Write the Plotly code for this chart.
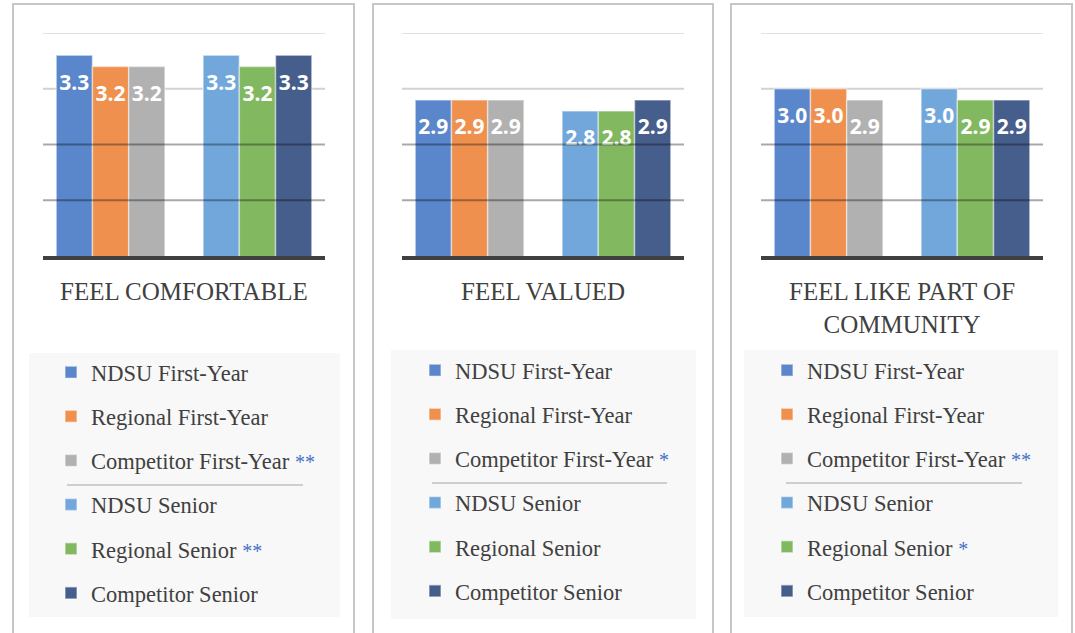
import plotly.graph_objects as go

# ---------------- data ----------------
GROUPS = ["First-Year", "Senior"]
SCHOOLS = ["NDSU", "Regional", "Competitor"]
SERIES = ["NDSU First-Year", "Regional First-Year", "Competitor First-Year",
          "NDSU Senior", "Regional Senior", "Competitor Senior"]
PANEL_TITLES = ["FEEL COMFORTABLE", "FEEL VALUED", "FEEL LIKE PART OF<br>COMMUNITY"]

comfortable_first_year = [3.3, 3.2, 3.2]
comfortable_senior = [3.3, 3.2, 3.3]
valued_first_year = [2.9, 2.9, 2.9]
valued_senior = [2.8, 2.8, 2.9]
community_first_year = [3.0, 3.0, 2.9]
community_senior = [3.0, 2.9, 2.9]

comfortable_marks = ["", "", "**", "", "**", ""]
valued_marks = ["", "", "*", "", "", ""]
community_marks = ["", "", "**", "", "*", ""]

Y_RANGE = [1.5, 3.5]
GRID_VALUES = [2.0, 2.5, 3.0, 3.5]

# ---------------- style ----------------
W, H = 1075, 633
COLORS = ["#5A86CB", "#F0904F", "#B1B1B1", "#72A7DB", "#82B860", "#465E8C"]
STAR_COLOR = "#4472C4"
TEXT_COLOR = "#404040"
SERIF = "Liberation Serif"

panels = [
    (comfortable_first_year, comfortable_senior, comfortable_marks),
    (valued_first_year, valued_senior, valued_marks),
    (community_first_year, community_senior, community_marks),
]

def px(x):
    return x / W

def py(y):
    return 1 - y / H

plot_x = [(43, 325), (402, 684), (761, 1043)]
plot_y = (33, 256)
borders = [(13, 354), (373, 713), (731, 1072)]
legend_bg = [(29, 353, 340, 617), (391, 350, 696, 619), (744, 350, 1058, 617)]
separators = [(67, 303, 485), (432, 667, 483), (786, 1022, 483)]
legend_pos = [(51, 351), (415, 349), (767, 349)]

fig = go.Figure()
layout = dict(
    width=W, height=H,
    margin=dict(l=0, r=0, t=0, b=0),
    paper_bgcolor="white", plot_bgcolor="rgba(0,0,0,0)",
    barmode="group", bargap=0.26,
    scattermode="group", scattergap=0.26,
    showlegend=True,
)
shapes = []
annotations = []

for p, (fy, sr, marks) in enumerate(panels):
    sfx = "" if p == 0 else str(p + 1)
    xa, ya = "x" + sfx, "y" + sfx
    leg = "legend" + sfx
    values = [fy, sr]
    # bars
    for g, grp in enumerate(GROUPS):
        for s, school in enumerate(SCHOOLS):
            idx = g * 3 + s
            name = SERIES[idx]
            if marks[idx]:
                name += " <span style='color:%s;font-size:20px'>%s</span>" % (STAR_COLOR, marks[idx])
            fig.add_trace(go.Bar(
                x=[grp], y=[values[g][s]], name=name,
                xaxis=xa, yaxis=ya, legend=leg,
                legendgroup="p%d-%d" % (p, idx),
                offsetgroup=school, alignmentgroup="p%d" % p,
                marker=dict(color=COLORS[idx], line=dict(color="rgba(255,255,255,0.45)", width=1.5)),
                hoverinfo="skip",
            ))
    # value labels
    for s, school in enumerate(SCHOOLS):
        ys = [fy[s], sr[s]]
        fig.add_trace(go.Scatter(
            x=GROUPS, y=ys, xaxis=xa, yaxis=ya,
            mode="markers+text",
            marker=dict(size=28, color="rgba(0,0,0,0)"),
            text=["%.1f" % v for v in ys],
            textposition="bottom center",
            textfont=dict(family="Open Sans", size=21, color="white", weight="bold"),
            showlegend=False, hoverinfo="skip", cliponaxis=False,
        ))

    x0, x1 = plot_x[p]
    layout["xaxis" + sfx] = dict(
        domain=[px(x0), px(x1)], anchor=ya, type="category",
        categoryorder="array", categoryarray=GROUPS,
        range=[-0.46, 1.46], showticklabels=False, ticks="",
        showgrid=False, zeroline=False,
        showline=True, linecolor=TEXT_COLOR, linewidth=4, fixedrange=True,
    )
    layout["yaxis" + sfx] = dict(
        domain=[py(plot_y[1]), py(plot_y[0])], anchor=xa,
        range=Y_RANGE, showticklabels=False, ticks="",
        showgrid=False, zeroline=False, showline=False, fixedrange=True,
    )
    lx, ly = legend_pos[p]
    layout[leg] = dict(
        x=px(lx), y=py(ly), xanchor="left", yanchor="top",
        bgcolor="rgba(0,0,0,0)", borderwidth=0,
        font=dict(family=SERIF, size=22.5, color=TEXT_COLOR),
        traceorder="grouped", tracegroupgap=11.9,
        itemclick=False, itemdoubleclick=False,
    )

    # gridlines
    for gv in GRID_VALUES:
        if gv >= 3.0:
            col = "#e2e2e2" if gv == 3.5 else "#d2d2d2"
            layer = "below"
        else:
            col = "rgba(0,0,0,0.34)"
            layer = "above"
        shapes.append(dict(type="line", xref=xa + " domain", yref=ya,
                           x0=0, x1=1, y0=gv, y1=gv,
                           line=dict(color=col, width=2), layer=layer))

    # panel border
    bx0, bx1 = borders[p]
    shapes.append(dict(type="rect", xref="paper", yref="paper",
                       x0=px(bx0), x1=px(bx1), y0=-0.05, y1=py(4),
                       line=dict(color="#c6c6c6", width=2), fillcolor="rgba(0,0,0,0)",
                       layer="below"))
    # legend background
    gx0, gy0, gx1, gy1 = legend_bg[p]
    shapes.append(dict(type="rect", xref="paper", yref="paper",
                       x0=px(gx0), x1=px(gx1), y0=py(gy1), y1=py(gy0),
                       line=dict(width=0), fillcolor="#f8f8f8", layer="below"))
    # separator between first-year and senior entries
    sx0, sx1, sy = separators[p]
    shapes.append(dict(type="line", xref="paper", yref="paper",
                       x0=px(sx0), x1=px(sx1), y0=py(sy), y1=py(sy),
                       line=dict(color="#c0c0c0", width=1.5)))

    # panel title
    annotations.append(dict(
        text=PANEL_TITLES[p], xref=xa + " domain", x=0.5,
        yref="paper", y=py(276), xanchor="center", yanchor="top",
        showarrow=False, align="center",
        font=dict(family=SERIF, size=25, color=TEXT_COLOR),
    ))

layout["shapes"] = shapes
layout["annotations"] = annotations
fig.update_layout(**layout)

fig.write_html(
    "out.html",
    config={"displayModeBar": False},
    post_script="document.body.style.margin='0';document.body.style.overflow='hidden';",
)
